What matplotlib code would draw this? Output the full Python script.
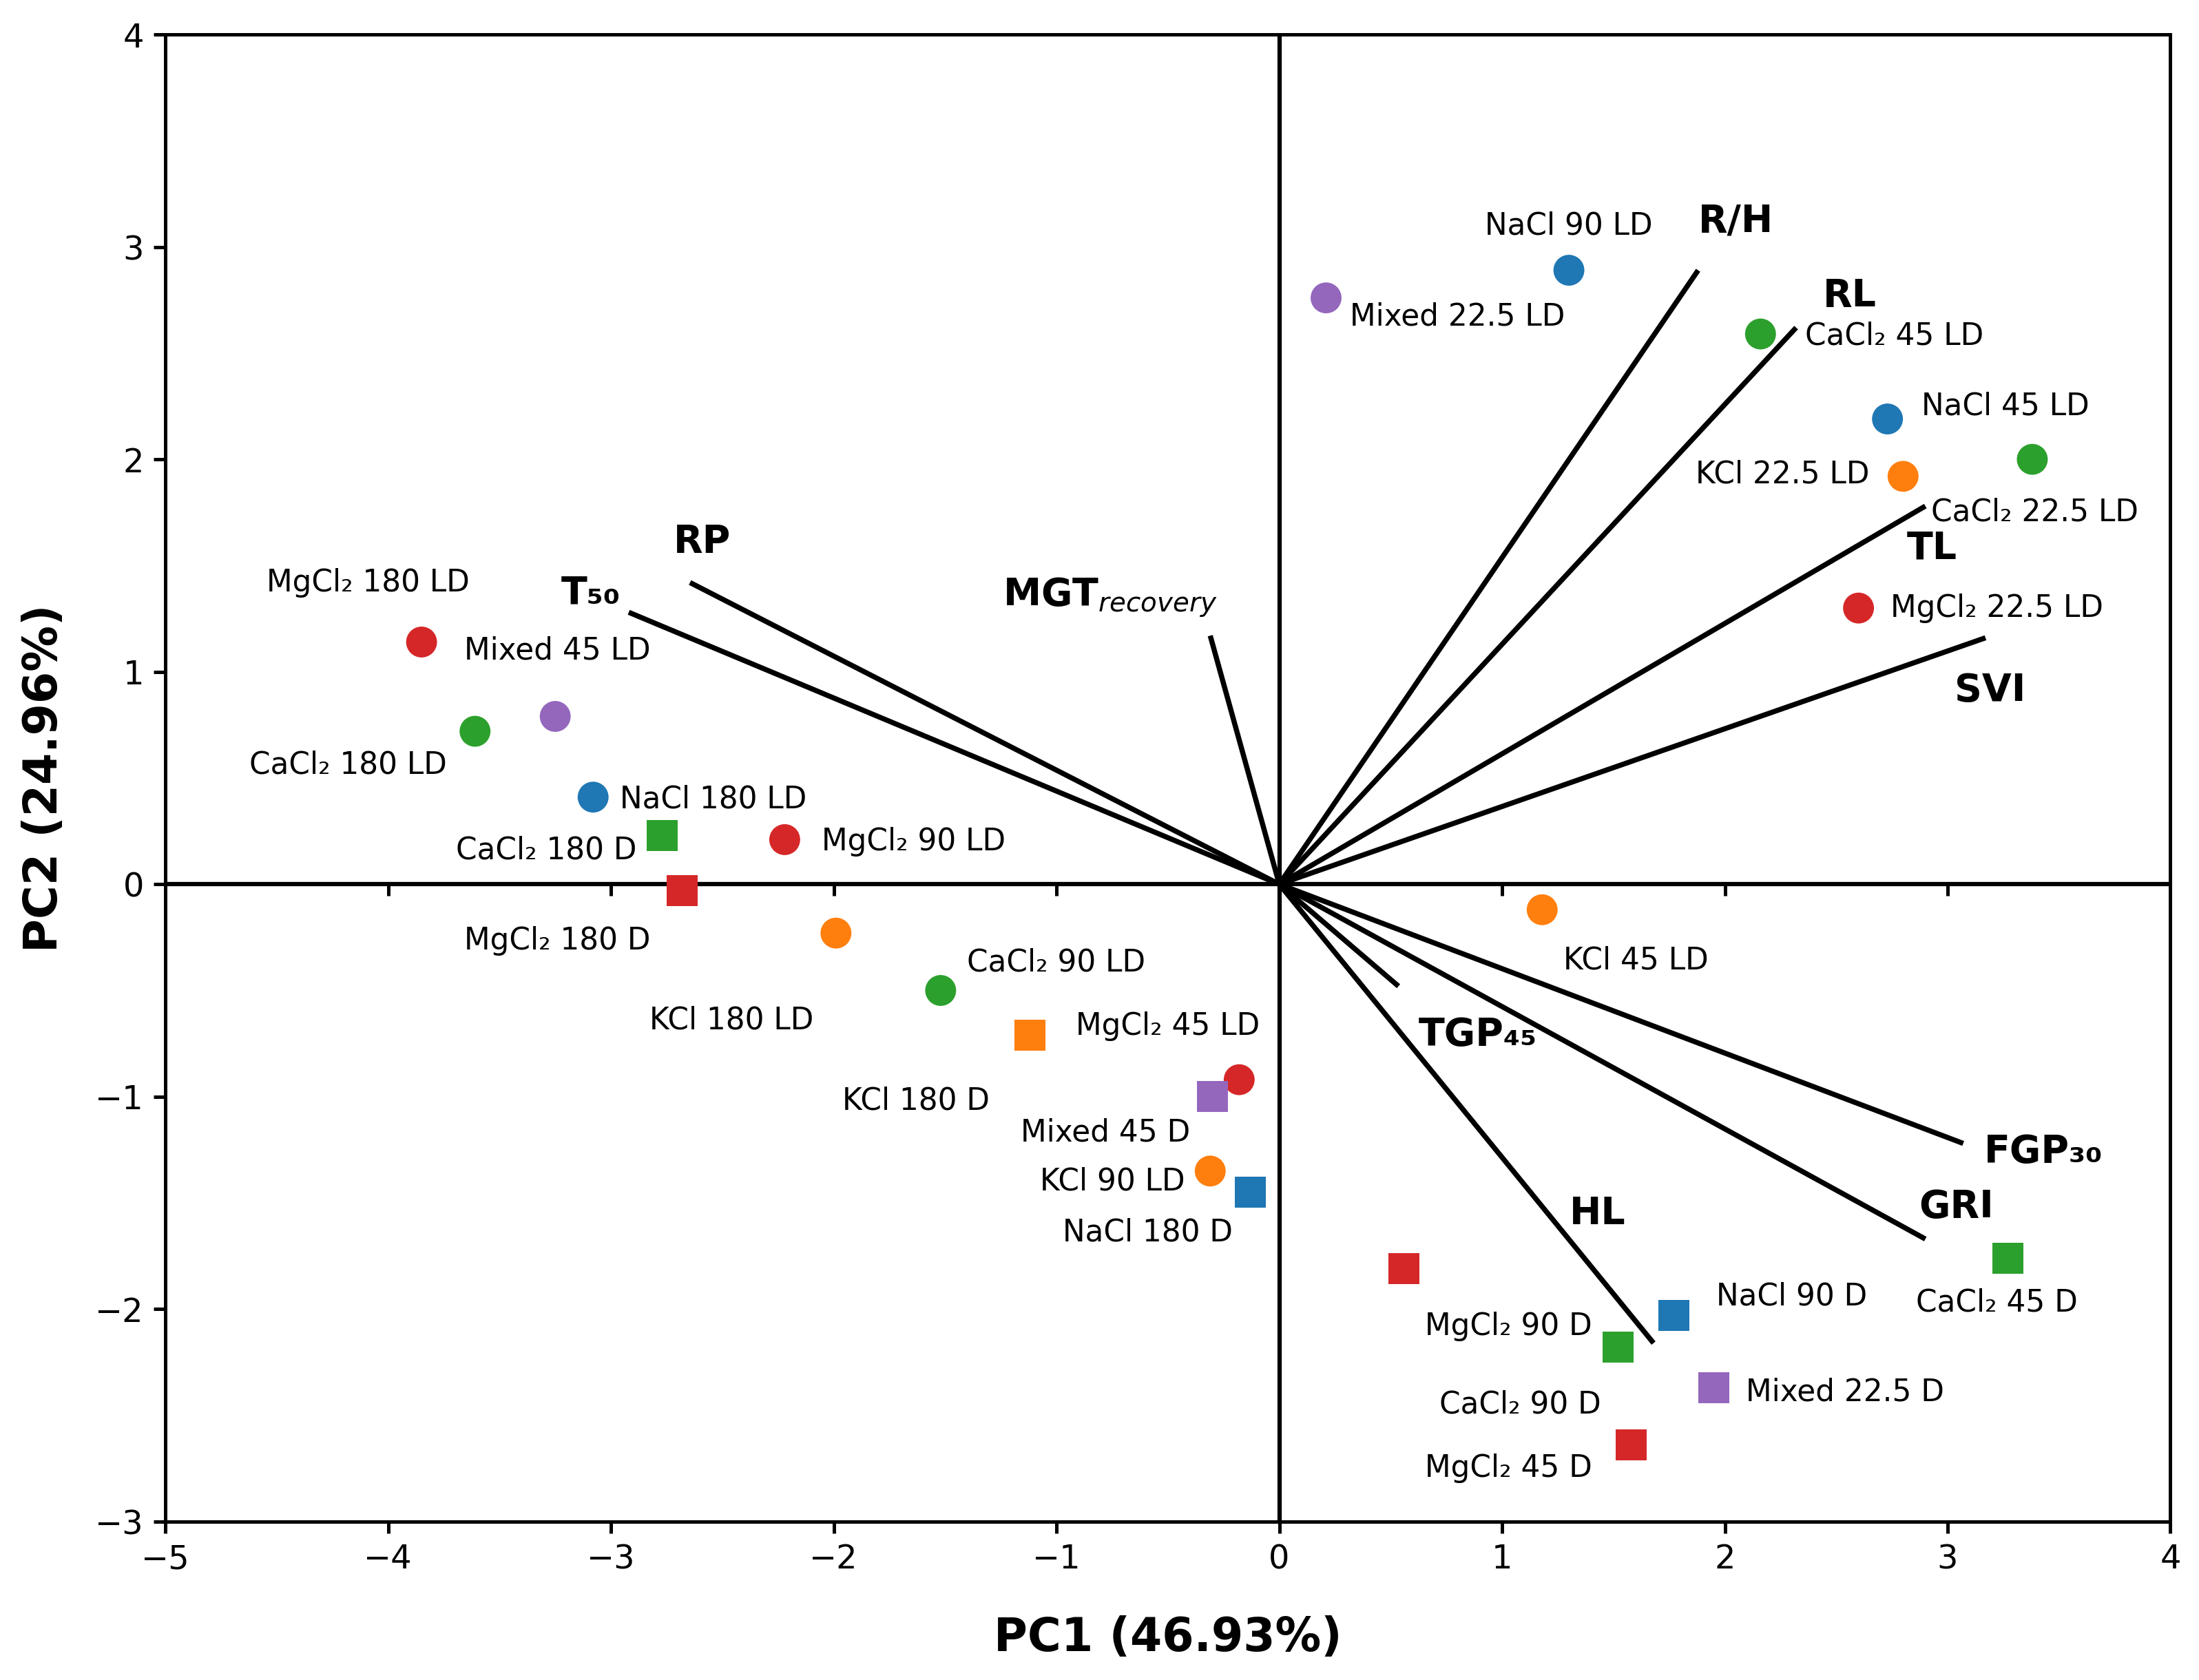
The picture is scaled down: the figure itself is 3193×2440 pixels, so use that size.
import matplotlib
matplotlib.use("Agg")
import matplotlib.pyplot as plt
import numpy as np

# ---------------- data ----------------
salt_colors = {"NaCl": "#1f77b4", "KCl": "#ff7f0e", "CaCl2": "#2ca02c",
               "MgCl2": "#d62728", "Mixed": "#9467bd"}

# LD samples (circles)
ld_salt = ["NaCl", "Mixed", "CaCl2", "NaCl", "KCl", "CaCl2", "MgCl2",
           "MgCl2", "Mixed", "CaCl2", "NaCl", "MgCl2", "KCl", "CaCl2",
           "MgCl2", "KCl", "KCl"]
ld_x = [1.30, 0.21, 2.16, 2.73, 2.80, 3.38, 2.60,
        -3.85, -3.25, -3.61, -3.08, -2.22, -1.99, -1.52,
        -0.18, -0.31, 1.18]
ld_y = [2.89, 2.76, 2.59, 2.19, 1.92, 2.00, 1.30,
        1.14, 0.79, 0.72, 0.41, 0.21, -0.23, -0.50,
        -0.92, -1.35, -0.12]

# D samples (squares)
d_salt = ["CaCl2", "MgCl2", "KCl", "Mixed", "NaCl", "MgCl2", "NaCl",
          "CaCl2", "Mixed", "MgCl2", "CaCl2"]
d_x = [-2.77, -2.68, -1.12, -0.30, -0.13, 0.56, 1.77, 1.52, 1.95, 1.58, 3.27]
d_y = [0.23, -0.03, -0.71, -1.00, -1.45, -1.81, -2.03, -2.18, -2.37, -2.64, -1.76]

# sample labels and their positions (label centres)
lab_text = ["NaCl 90 LD", "Mixed 22.5 LD", "CaCl₂ 45 LD", "NaCl 45 LD",
            "KCl 22.5 LD", "CaCl₂ 22.5 LD", "MgCl₂ 22.5 LD", "MgCl₂ 180 LD",
            "Mixed 45 LD", "CaCl₂ 180 LD", "NaCl 180 LD", "CaCl₂ 180 D",
            "MgCl₂ 90 LD", "MgCl₂ 180 D", "KCl 180 LD", "CaCl₂ 90 LD",
            "MgCl₂ 45 LD", "KCl 180 D", "Mixed 45 D", "KCl 90 LD",
            "NaCl 180 D", "KCl 45 LD", "MgCl₂ 90 D", "NaCl 90 D",
            "CaCl₂ 90 D", "Mixed 22.5 D", "MgCl₂ 45 D", "CaCl₂ 45 D"]
lab_x = [1.30, 0.80, 2.76, 3.26, 2.26, 3.39, 3.22, -4.09,
         -3.24, -4.18, -2.54, -3.29, -1.64, -3.24, -2.46, -1.00,
         -0.50, -1.63, -0.78, -0.75, -0.59, 1.60, 1.03, 2.30,
         1.08, 2.54, 1.03, 3.22]
lab_y = [3.10, 2.67, 2.58, 2.25, 1.93, 1.75, 1.30, 1.42,
         1.10, 0.56, 0.40, 0.16, 0.20, -0.265, -0.64, -0.37,
         -0.67, -1.02, -1.17, -1.40, -1.64, -0.36, -2.08, -1.94,
         -2.45, -2.39, -2.75, -1.97]

# loading vectors
load_names = ["R/H", "RL", "TL", "SVI", "RP", "T₅₀", "MGT$_{recovery}$",
              "TGP₄₅", "HL", "GRI", "FGP₃₀"]
load_x = [1.88, 2.32, 2.90, 3.17, -2.645, -2.92, -0.31, 0.535, 1.68, 2.90, 3.07]
load_y = [2.89, 2.62, 1.78, 1.16, 1.42, 1.28, 1.17, -0.48, -2.16, -1.67, -1.22]
load_lab_x = [2.05, 2.56, 2.93, 3.19, -2.59, -3.09, -0.76, 0.89, 1.43, 3.04, 3.43]
load_lab_y = [3.12, 2.77, 1.58, 0.91, 1.61, 1.37, 1.35, -0.71, -1.55, -1.52, -1.26]

x_ticks = [-5, -4, -3, -2, -1, 0, 1, 2, 3, 4]
y_ticks = [-3, -2, -1, 0, 1, 2, 3, 4]
xlabel = "PC1 (46.93%)"
ylabel = "PC2 (24.96%)"

# ---------------- figure ----------------
plt.rcParams["font.family"] = ["DejaVu Sans"]
fig = plt.figure(figsize=(3193 / 300, 2440 / 300), dpi=300)
ax = fig.add_axes([0.0752, 0.0943, 0.9118, 0.8852])

ax.set_xlim(-5, 4)
ax.set_ylim(-3, 4)

ax.axhline(0, color="black", lw=1.5, zorder=1)
ax.axvline(0, color="black", lw=1.5, zorder=1)

for lx, ly in zip(load_x, load_y):
    ax.plot([0, lx], [0, ly], color="black", lw=1.8, zorder=2,
            solid_capstyle="butt")

ax.scatter(ld_x, ld_y, s=116, marker="o",
           c=[salt_colors[s] for s in ld_salt], linewidths=0, zorder=3)
ax.scatter(d_x, d_y, s=116, marker="s",
           c=[salt_colors[s] for s in d_salt], linewidths=0, zorder=4)

for t, tx, ty in zip(lab_text, lab_x, lab_y):
    ax.text(tx, ty, t, fontsize=10.5, ha="center", va="center", zorder=5)

for t, tx, ty in zip(load_names, load_lab_x, load_lab_y):
    ax.text(tx, ty, t, fontsize=13.3, fontweight="bold", ha="center",
            va="center", zorder=5)

ax.set_xticks(x_ticks)
ax.set_yticks(y_ticks)
ax.set_xticklabels([str(v).replace("-", "−") for v in x_ticks])
ax.set_yticklabels([str(v).replace("-", "−") for v in y_ticks])
ax.tick_params(axis="both", labelsize=11.5, length=4, width=1.2,
               direction="out")
for sp in ax.spines.values():
    sp.set_linewidth(1.2)

# ticks along the zero line
sec = ax.secondary_xaxis(0, transform=ax.transData)
sec.set_xticks(x_ticks[1:-1])
sec.tick_params(axis="x", length=4, width=1.2, direction="out",
                labelbottom=False, labeltop=False)
for sp in sec.spines.values():
    sp.set_visible(False)

ax.set_xlabel(xlabel, fontsize=16, fontweight="bold", labelpad=14)
ax.set_ylabel(ylabel, fontsize=16, fontweight="bold", labelpad=10)

fig.savefig("out.png", dpi=300)
